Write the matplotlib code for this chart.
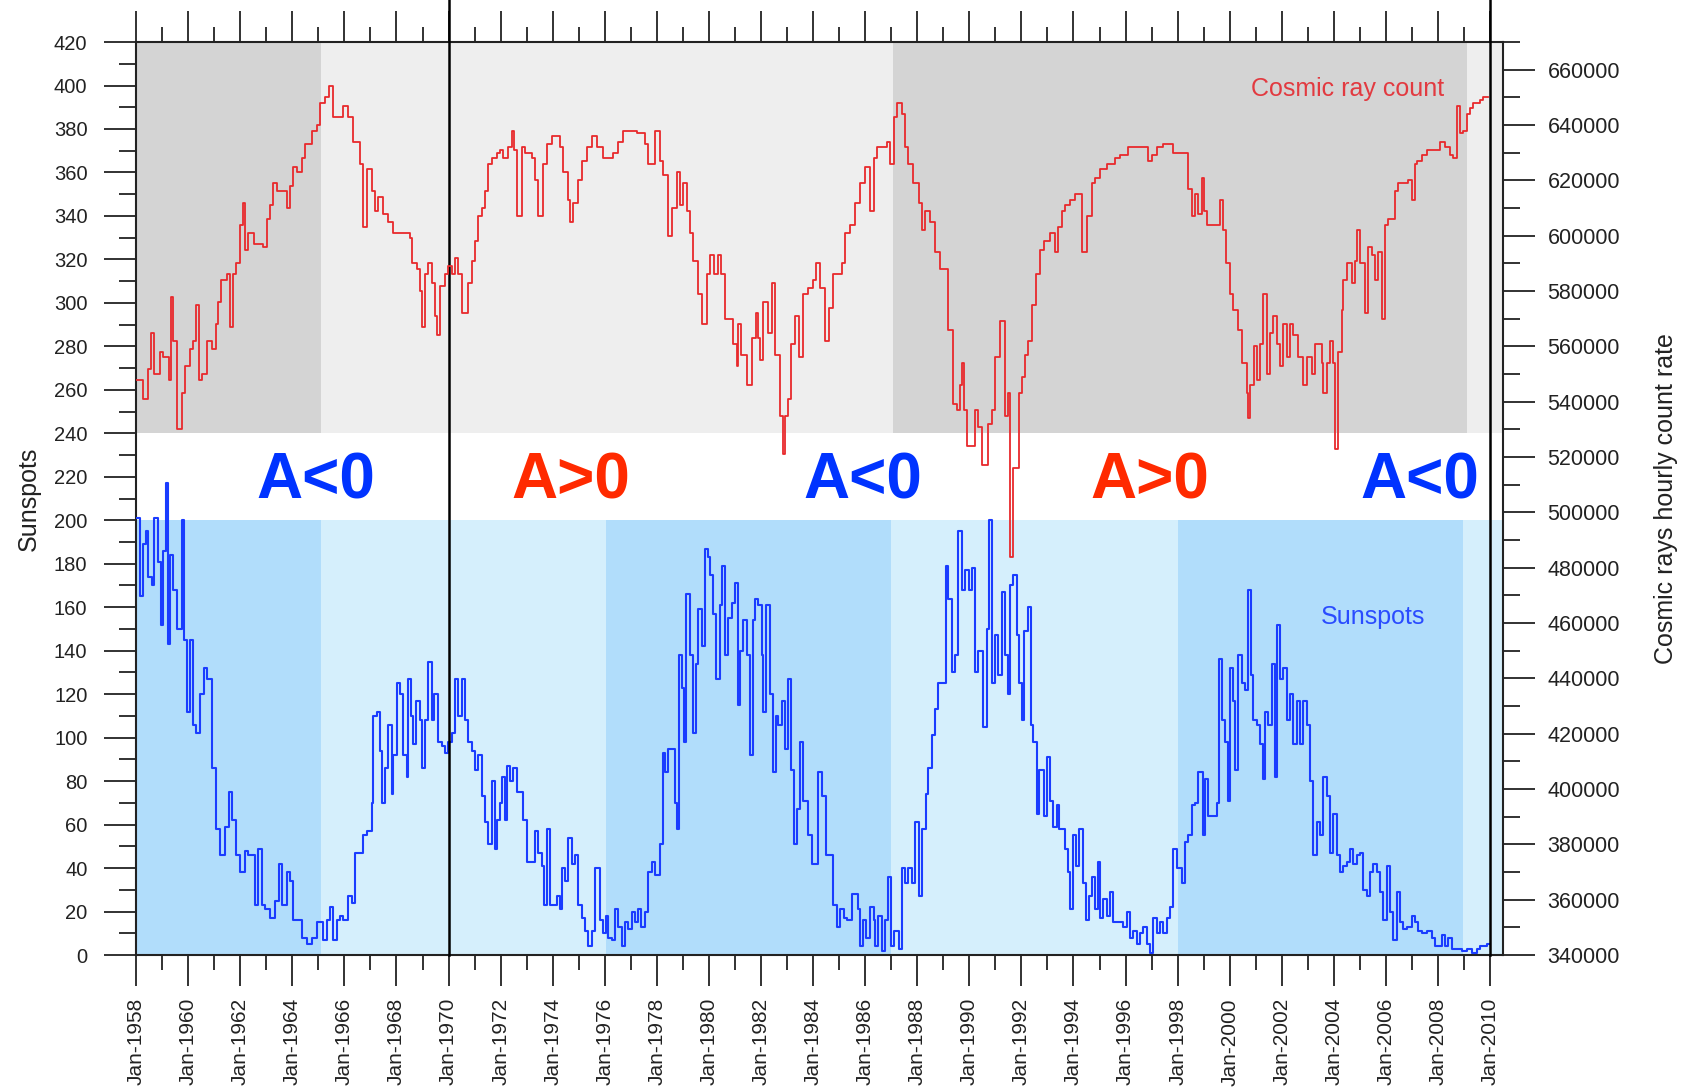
import matplotlib
matplotlib.use("Agg")
import matplotlib.pyplot as plt
import numpy as np
from matplotlib.ticker import FuncFormatter, MultipleLocator

plt.rcParams["font.family"] = ["Liberation Sans", "DejaVu Sans"]

# === DATA ===
# monthly sunspot number, as (decimal year where the step starts, value)
sunspot_points = [
    (1958.00, 201), (1958.15, 165), (1958.28, 189), (1958.38, 195), (1958.47, 174),
    (1958.60, 170), (1958.69, 201), (1958.86, 181), (1958.95, 152), (1959.05, 186),
    (1959.15, 217), (1959.24, 143), (1959.31, 184), (1959.43, 168), (1959.56, 150),
    (1959.75, 200), (1959.84, 145), (1959.95, 112), (1960.07, 145), (1960.18, 106),
    (1960.30, 102), (1960.46, 120), (1960.61, 132), (1960.74, 127), (1960.91, 86),
    (1961.07, 58), (1961.23, 46), (1961.42, 59), (1961.55, 75), (1961.67, 62),
    (1961.84, 46), (1961.99, 38), (1962.19, 48), (1962.31, 46), (1962.57, 23),
    (1962.70, 49), (1962.83, 23), (1962.95, 21), (1963.15, 17), (1963.34, 25),
    (1963.47, 42), (1963.59, 23), (1963.79, 38), (1963.91, 34), (1964.04, 16),
    (1964.36, 8), (1964.55, 5), (1964.75, 8), (1964.94, 15), (1965.19, 7),
    (1965.32, 16), (1965.45, 22), (1965.58, 7), (1965.71, 16), (1965.83, 18),
    (1965.96, 16), (1966.15, 27), (1966.28, 24), (1966.41, 47), (1966.73, 55),
    (1966.88, 57), (1967.05, 70), (1967.11, 110), (1967.24, 112), (1967.37, 94),
    (1967.43, 70), (1967.56, 86), (1967.69, 106), (1967.82, 74), (1967.88, 92),
    (1968.01, 125), (1968.14, 120), (1968.26, 92), (1968.39, 82), (1968.46, 127),
    (1968.55, 110), (1968.65, 97), (1968.75, 117), (1968.90, 108), (1968.97, 86),
    (1969.10, 108), (1969.22, 135), (1969.35, 108), (1969.44, 120), (1969.61, 98),
    (1969.74, 96), (1969.86, 93), (1969.99, 98), (1970.12, 102), (1970.25, 127),
    (1970.38, 110), (1970.50, 127), (1970.63, 108), (1970.76, 98), (1970.89, 94),
    (1971.02, 85), (1971.14, 92), (1971.27, 73), (1971.40, 61), (1971.53, 51),
    (1971.66, 80), (1971.78, 49), (1971.87, 62), (1971.98, 70), (1972.07, 82),
    (1972.17, 62), (1972.26, 87), (1972.36, 80), (1972.49, 86), (1972.62, 75),
    (1972.87, 62), (1973.00, 43), (1973.32, 57), (1973.45, 47), (1973.58, 41),
    (1973.67, 23), (1973.77, 58), (1973.90, 23), (1974.15, 27), (1974.28, 21),
    (1974.37, 40), (1974.47, 34), (1974.60, 54), (1974.73, 42), (1974.86, 46),
    (1974.98, 23), (1975.11, 17), (1975.24, 11), (1975.37, 4), (1975.50, 11),
    (1975.62, 40), (1975.81, 16), (1975.92, 10), (1976.04, 18), (1976.13, 8),
    (1976.26, 7), (1976.39, 21), (1976.52, 13), (1976.65, 4), (1976.77, 15),
    (1976.90, 12), (1977.03, 20), (1977.16, 15), (1977.29, 21), (1977.41, 13),
    (1977.54, 20), (1977.67, 38), (1977.80, 43), (1977.93, 37), (1978.12, 51),
    (1978.22, 93), (1978.31, 84), (1978.44, 95), (1978.69, 70), (1978.78, 58),
    (1978.86, 138), (1978.95, 123), (1979.04, 98), (1979.12, 166), (1979.27, 138),
    (1979.40, 102), (1979.50, 134), (1979.59, 159), (1979.72, 142), (1979.85, 187),
    (1979.97, 183), (1980.06, 175), (1980.17, 157), (1980.29, 127), (1980.42, 161),
    (1980.52, 179), (1980.61, 138), (1980.74, 155), (1980.87, 162), (1981.00, 171),
    (1981.10, 115), (1981.19, 140), (1981.32, 154), (1981.45, 138), (1981.57, 92),
    (1981.68, 154), (1981.77, 164), (1981.89, 161), (1982.02, 138), (1982.09, 112),
    (1982.21, 161), (1982.34, 120), (1982.47, 84), (1982.57, 110), (1982.66, 106),
    (1982.79, 117), (1982.92, 95), (1983.05, 127), (1983.17, 85), (1983.26, 51),
    (1983.37, 67), (1983.49, 98), (1983.62, 71), (1983.81, 55), (1983.94, 42),
    (1984.20, 84), (1984.35, 73), (1984.50, 46), (1984.76, 23), (1984.91, 13),
    (1985.04, 21), (1985.17, 17), (1985.29, 16), (1985.49, 28), (1985.74, 21),
    (1985.81, 4), (1985.91, 16), (1986.04, 8), (1986.19, 22), (1986.32, 16),
    (1986.38, 4), (1986.51, 18), (1986.64, 2), (1986.77, 16), (1986.89, 36),
    (1986.98, 4), (1987.09, 11), (1987.28, 3), (1987.41, 40), (1987.53, 33),
    (1987.66, 40), (1987.79, 33), (1987.92, 61), (1988.05, 27), (1988.17, 58),
    (1988.34, 74), (1988.43, 86), (1988.56, 101), (1988.69, 113), (1988.81, 125),
    (1989.11, 179), (1989.20, 164), (1989.33, 130), (1989.45, 138), (1989.58, 195),
    (1989.71, 168), (1989.84, 177), (1989.97, 168), (1990.09, 178), (1990.22, 130),
    (1990.35, 140), (1990.54, 105), (1990.67, 150), (1990.77, 200), (1990.86, 125),
    (1990.99, 147), (1991.12, 129), (1991.25, 167), (1991.37, 138), (1991.50, 120),
    (1991.57, 170), (1991.69, 175), (1991.82, 147), (1991.92, 125), (1992.01, 108),
    (1992.10, 149), (1992.27, 160), (1992.36, 106), (1992.46, 98), (1992.59, 65),
    (1992.69, 85), (1992.85, 64), (1992.97, 91), (1993.10, 71), (1993.23, 59),
    (1993.36, 69), (1993.45, 58), (1993.68, 49), (1993.80, 38), (1993.87, 21),
    (1993.97, 55), (1994.10, 41), (1994.23, 58), (1994.35, 33), (1994.48, 16),
    (1994.61, 27), (1994.70, 36), (1994.83, 21), (1994.96, 43), (1995.02, 17),
    (1995.12, 26), (1995.28, 18), (1995.40, 29), (1995.53, 15), (1995.92, 13),
    (1996.04, 20), (1996.17, 8), (1996.30, 11), (1996.43, 5), (1996.56, 10),
    (1996.68, 13), (1996.81, 5), (1996.94, 1), (1997.07, 17), (1997.20, 10),
    (1997.32, 15), (1997.45, 10), (1997.58, 17), (1997.71, 22), (1997.84, 49),
    (1997.96, 40), (1998.16, 33), (1998.28, 52), (1998.41, 55), (1998.54, 69),
    (1998.67, 70), (1998.80, 84), (1998.96, 55), (1999.05, 81), (1999.18, 64),
    (1999.50, 70), (1999.60, 136), (1999.69, 108), (1999.82, 98), (1999.95, 71),
    (2000.01, 132), (2000.11, 117), (2000.20, 85), (2000.33, 138), (2000.46, 125),
    (2000.59, 122), (2000.72, 168), (2000.81, 129), (2000.91, 108), (2001.04, 106),
    (2001.16, 97), (2001.29, 81), (2001.36, 112), (2001.48, 106), (2001.61, 134),
    (2001.74, 82), (2001.83, 152), (2001.93, 127), (2002.06, 132), (2002.19, 108),
    (2002.31, 120), (2002.44, 97), (2002.57, 117), (2002.70, 97), (2002.83, 117),
    (2002.95, 106), (2003.08, 80), (2003.21, 46), (2003.34, 61), (2003.47, 55),
    (2003.59, 82), (2003.72, 73), (2003.85, 47), (2003.98, 65), (2004.11, 46),
    (2004.23, 38), (2004.36, 41), (2004.49, 43), (2004.62, 49), (2004.75, 42),
    (2004.87, 46), (2005.00, 47), (2005.13, 30), (2005.26, 27), (2005.39, 38),
    (2005.51, 42), (2005.64, 38), (2005.77, 29), (2005.90, 16), (2006.03, 41),
    (2006.15, 20), (2006.28, 7), (2006.41, 29), (2006.54, 15), (2006.67, 12),
    (2006.79, 13), (2006.99, 18), (2007.11, 15), (2007.24, 11), (2007.37, 10),
    (2007.56, 11), (2007.75, 8), (2007.88, 4), (2008.14, 9), (2008.27, 4),
    (2008.39, 8), (2008.52, 3), (2008.91, 2), (2009.10, 3), (2009.29, 1),
    (2009.48, 3), (2009.61, 4), (2009.87, 5), (2009.95, 5),
]

# cosmic ray hourly count rate (neutron monitor), same layout
cosmic_points = [
    (1958.00, 548000), (1958.28, 541000), (1958.44, 552000), (1958.56, 565000),
    (1958.67, 550000), (1958.92, 558000), (1959.05, 556000), (1959.28, 548000),
    (1959.33, 578000), (1959.43, 562000), (1959.56, 530000), (1959.75, 543000),
    (1959.88, 553000), (1960.07, 559000), (1960.20, 562000), (1960.30, 575000),
    (1960.41, 548000), (1960.52, 550000), (1960.71, 562000), (1960.91, 559000),
    (1961.07, 568000), (1961.16, 576000), (1961.25, 584000), (1961.48, 586000),
    (1961.61, 567000), (1961.71, 586000), (1961.84, 590000), (1961.99, 604000),
    (1962.12, 612000), (1962.20, 595000), (1962.28, 601000), (1962.51, 597000),
    (1962.89, 596000), (1963.02, 606000), (1963.15, 611000), (1963.27, 619000),
    (1963.40, 616000), (1963.79, 610000), (1963.91, 618000), (1964.04, 625000),
    (1964.17, 623000), (1964.36, 628000), (1964.49, 633000), (1964.75, 638000),
    (1964.94, 640000), (1965.07, 648000), (1965.26, 650000), (1965.42, 654000),
    (1965.58, 643000), (1965.96, 647000), (1966.15, 643000), (1966.35, 634000),
    (1966.60, 626000), (1966.73, 603000), (1966.86, 624000), (1967.05, 616000),
    (1967.18, 609000), (1967.30, 614000), (1967.50, 608000), (1967.69, 605000),
    (1967.88, 601000), (1968.52, 599000), (1968.58, 590000), (1968.78, 588000),
    (1968.90, 580000), (1968.97, 567000), (1969.10, 586000), (1969.22, 590000),
    (1969.35, 583000), (1969.48, 571000), (1969.57, 564000), (1969.67, 582000),
    (1969.86, 586000), (1969.99, 589000), (1970.12, 586000), (1970.25, 592000),
    (1970.38, 586000), (1970.50, 572000), (1970.76, 583000), (1970.89, 591000),
    (1971.02, 598000), (1971.14, 607000), (1971.27, 610000), (1971.40, 616000),
    (1971.53, 626000), (1971.66, 628000), (1971.85, 630000), (1971.98, 631000),
    (1972.10, 628000), (1972.30, 632000), (1972.42, 638000), (1972.51, 631000),
    (1972.62, 607000), (1972.81, 632000), (1972.94, 630000), (1973.19, 628000),
    (1973.32, 620000), (1973.45, 607000), (1973.61, 626000), (1973.77, 633000),
    (1973.96, 636000), (1974.28, 632000), (1974.41, 623000), (1974.60, 613000),
    (1974.66, 605000), (1974.79, 612000), (1974.98, 620000), (1975.11, 627000),
    (1975.30, 632000), (1975.50, 636000), (1975.69, 632000), (1975.94, 628000),
    (1976.33, 630000), (1976.52, 634000), (1976.71, 638000), (1977.22, 637000),
    (1977.54, 633000), (1977.67, 626000), (1977.93, 638000), (1978.12, 627000),
    (1978.25, 622000), (1978.44, 600000), (1978.57, 610000), (1978.76, 623000),
    (1978.89, 611000), (1979.01, 619000), (1979.14, 609000), (1979.27, 601000),
    (1979.40, 591000), (1979.59, 579000), (1979.72, 568000), (1979.91, 586000),
    (1980.04, 593000), (1980.19, 586000), (1980.36, 593000), (1980.45, 586000),
    (1980.61, 570000), (1980.93, 561000), (1981.06, 553000), (1981.13, 568000),
    (1981.25, 557000), (1981.45, 546000), (1981.64, 563000), (1981.79, 572000),
    (1981.87, 563000), (1981.96, 555000), (1982.09, 576000), (1982.28, 565000),
    (1982.41, 583000), (1982.53, 557000), (1982.73, 535000), (1982.83, 521000),
    (1982.92, 535000), (1983.05, 541000), (1983.17, 561000), (1983.30, 571000),
    (1983.47, 556000), (1983.60, 579000), (1983.81, 581000), (1984.01, 584000),
    (1984.13, 590000), (1984.26, 581000), (1984.46, 562000), (1984.63, 574000),
    (1984.78, 586000), (1985.10, 590000), (1985.23, 601000), (1985.42, 604000),
    (1985.61, 612000), (1985.81, 619000), (1986.00, 625000), (1986.19, 609000),
    (1986.32, 628000), (1986.45, 632000), (1986.83, 634000), (1986.96, 626000),
    (1987.09, 643000), (1987.24, 648000), (1987.41, 644000), (1987.53, 632000),
    (1987.66, 626000), (1987.85, 619000), (1988.05, 612000), (1988.17, 602000),
    (1988.30, 609000), (1988.49, 605000), (1988.69, 594000), (1988.88, 588000),
    (1989.20, 566000), (1989.36, 539000), (1989.52, 537000), (1989.65, 546000),
    (1989.71, 554000), (1989.80, 537000), (1989.90, 524000), (1990.22, 537000),
    (1990.35, 531000), (1990.48, 517000), (1990.73, 532000), (1990.86, 537000),
    (1990.99, 556000), (1991.18, 569000), (1991.37, 535000), (1991.50, 543000),
    (1991.57, 484000), (1991.69, 516000), (1991.89, 543000), (1992.01, 549000),
    (1992.14, 557000), (1992.27, 562000), (1992.40, 575000), (1992.57, 586000),
    (1992.72, 595000), (1992.85, 598000), (1993.10, 601000), (1993.29, 594000),
    (1993.42, 603000), (1993.55, 609000), (1993.68, 611000), (1993.87, 613000),
    (1994.06, 615000), (1994.32, 594000), (1994.51, 607000), (1994.70, 619000),
    (1994.83, 621000), (1995.02, 624000), (1995.28, 626000), (1995.60, 628000),
    (1995.79, 629000), (1996.11, 632000), (1996.88, 627000), (1997.00, 629000),
    (1997.20, 632000), (1997.45, 633000), (1997.84, 630000), (1998.41, 617000),
    (1998.54, 607000), (1998.67, 615000), (1998.80, 608000), (1998.92, 621000),
    (1999.01, 609000), (1999.12, 604000), (1999.63, 613000), (1999.76, 602000),
    (1999.85, 590000), (2000.01, 579000), (2000.14, 573000), (2000.33, 566000),
    (2000.46, 554000), (2000.65, 543000), (2000.72, 534000), (2000.78, 546000),
    (2000.93, 560000), (2001.04, 548000), (2001.16, 561000), (2001.29, 579000),
    (2001.42, 550000), (2001.55, 565000), (2001.68, 571000), (2001.80, 561000),
    (2001.93, 553000), (2002.06, 568000), (2002.19, 556000), (2002.31, 568000),
    (2002.44, 564000), (2002.63, 556000), (2002.83, 546000), (2002.95, 556000),
    (2003.15, 550000), (2003.27, 561000), (2003.53, 554000), (2003.59, 543000),
    (2003.72, 554000), (2003.85, 562000), (2003.98, 554000), (2004.04, 523000),
    (2004.17, 558000), (2004.30, 573000), (2004.36, 584000), (2004.49, 590000),
    (2004.68, 583000), (2004.81, 591000), (2004.90, 602000), (2005.00, 590000),
    (2005.19, 572000), (2005.32, 596000), (2005.45, 593000), (2005.58, 584000),
    (2005.71, 594000), (2005.83, 570000), (2005.96, 604000), (2006.09, 606000),
    (2006.35, 616000), (2006.47, 619000), (2006.86, 620000), (2006.99, 613000),
    (2007.11, 626000), (2007.18, 627000), (2007.37, 629000), (2007.56, 631000),
    (2008.07, 634000), (2008.27, 632000), (2008.46, 629000), (2008.59, 628000),
    (2008.71, 647000), (2008.84, 637000), (2008.97, 638000), (2009.10, 644000),
    (2009.23, 646000), (2009.35, 648000), (2009.61, 649000), (2009.74, 650000),
    (2009.92, 650000),
]

# solar magnetic polarity phases
phase_labels = ["A<0", "A>0", "A<0", "A>0", "A<0"]
phase_centers = [1964.9, 1974.7, 1985.9, 1996.95, 2007.3]

# shading periods (sunspot cycles) for the two bands
gray_edges = [1958, 1965.1, 1987.05, 2009.1, 2010.5]
blue_edges = [1958, 1965.1, 1976.05, 1987.0, 1998.0, 2008.95, 2010.5]

ss_year, ss_value = map(np.array, zip(*sunspot_points))
cr_year, cr_value = map(np.array, zip(*cosmic_points))

# === FIGURE ===
TICK_COLOR = "#222222"
fig = plt.figure(figsize=(16.84, 10.89), dpi=100)
ax = fig.add_axes([0.0808, 0.1230, 0.8118, 0.8384])
ax2 = ax.twinx()

ax.set_xlim(1958, 2010.5)
ax.set_ylim(0, 420)
ax2.set_ylim(340000, 670000)

# background bands
for i in range(len(gray_edges) - 1):
    c = "#d4d4d4" if i % 2 == 0 else "#eeeeee"
    ax.fill_between([gray_edges[i], gray_edges[i + 1]], 240, 420,
                    color=c, lw=0, zorder=0)
for i in range(len(blue_edges) - 1):
    c = "#b1ddfb" if i % 2 == 0 else "#d5effc"
    ax.fill_between([blue_edges[i], blue_edges[i + 1]], 0, 200,
                    color=c, lw=0, zorder=0)

ax.step(ss_year, ss_value, where="post", color="#1a3cff", lw=1.5, zorder=3)
ax2.step(cr_year, cr_value, where="post", color="#e8292c", lw=1.3, zorder=3)

# polarity epochs
for txt, xc in zip(phase_labels, phase_centers):
    col = "#0033ff" if "<" in txt else "#ff2a00"
    ax.text(xc, 210, txt, color=col, fontsize=46, fontweight="bold",
            ha="center", va="baseline", zorder=4)

ax.text(2004.52, 395, "Cosmic ray count", color="#e23a40", fontsize=18,
        ha="center", va="baseline", zorder=4)
ax.text(2005.5, 152.5, "Sunspots", color="#2a4cff", fontsize=18,
        ha="center", va="baseline", zorder=4)

for xv in (1970, 2010):
    ax.axvline(xv, ymin=0, ymax=1.047, color="black", lw=1.8,
               clip_on=False, zorder=5)

# x axis: ticks top and bottom, labels bottom only
ax.xaxis.set_major_locator(MultipleLocator(2))
ax.xaxis.set_minor_locator(MultipleLocator(1))
ax.xaxis.set_major_formatter(FuncFormatter(lambda v, p: f"Jan-{int(round(v))}"))
ax.tick_params(axis="x", which="both", direction="out", top=True, bottom=True,
               labeltop=False, width=1.3, color="#222222")
ax.tick_params(axis="x", which="major", length=22, pad=9, labelsize=15,
               labelrotation=90, labelcolor=TICK_COLOR)
ax.tick_params(axis="x", which="minor", length=11)

ax.yaxis.set_major_locator(MultipleLocator(20))
ax.yaxis.set_minor_locator(MultipleLocator(10))
ax.tick_params(axis="y", which="both", direction="out", width=1.3, color="#222222")
ax.tick_params(axis="y", which="major", length=23, pad=12, labelsize=14.5,
               labelcolor=TICK_COLOR)
ax.tick_params(axis="y", which="minor", length=12)

ax2.yaxis.set_major_locator(MultipleLocator(20000))
ax2.yaxis.set_minor_locator(MultipleLocator(10000))
ax2.yaxis.set_major_formatter(FuncFormatter(lambda v, p: f"{v:.0f}"))
ax2.tick_params(axis="y", which="both", direction="out", width=1.3, color="#222222")
ax2.tick_params(axis="y", which="major", length=23, pad=9, labelsize=15.5,
                labelcolor=TICK_COLOR)
ax2.tick_params(axis="y", which="minor", length=12)

for side in ("left", "bottom", "top"):
    ax.spines[side].set_linewidth(1.5)
    ax.spines[side].set_color("#222222")
    ax2.spines[side].set_visible(False)
ax.spines["right"].set_visible(False)
ax2.spines["right"].set_linewidth(1.5)
ax2.spines["right"].set_color("#222222")

ax.set_ylabel("Sunspots", fontsize=18, color=TICK_COLOR)
ax.yaxis.set_label_coords(-0.0695, 0.5)
ax2.set_ylabel("Cosmic rays hourly count rate", fontsize=18, color=TICK_COLOR)
ax2.yaxis.set_label_coords(1.110, 0.5)

fig.savefig("out.png", dpi=100)
